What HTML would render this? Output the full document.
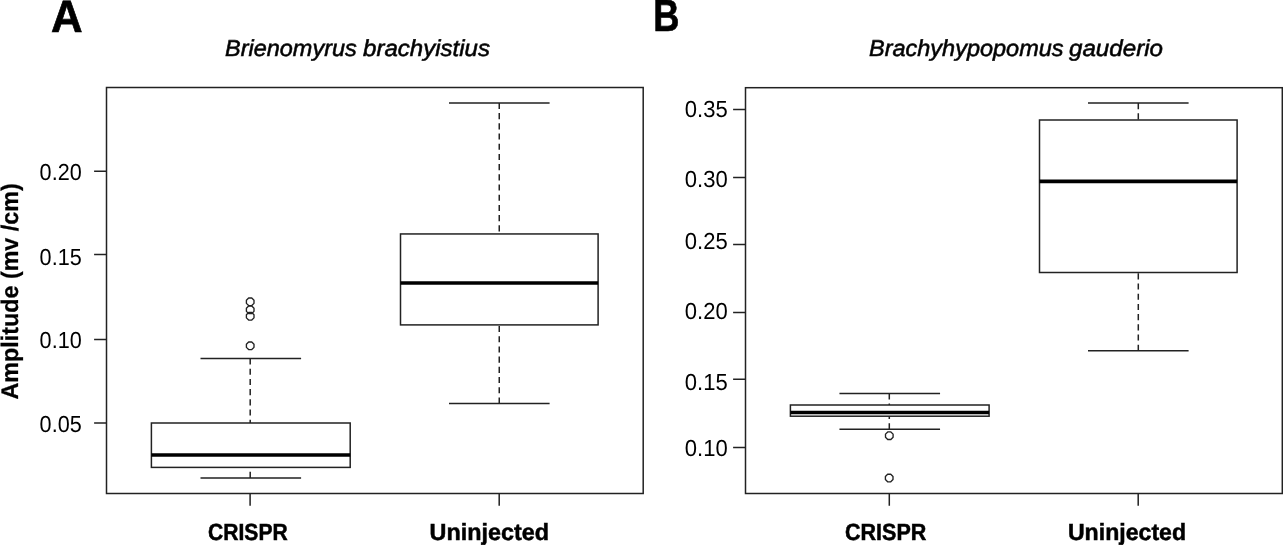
<!DOCTYPE html>
<html><head><meta charset="utf-8">
<style>
html,body{margin:0;padding:0;background:#fff;width:1283px;height:545px;overflow:hidden;}
svg{display:block;will-change:transform;}
text{font-family:"Liberation Sans", sans-serif;fill:#000;}
.b{font-weight:bold;}
.i{font-style:italic;}
</style></head><body>
<svg width="1283" height="545" viewBox="0 0 1283 545">
<rect x="0" y="0" width="1283" height="545" fill="#fff"/>
<text id="t0" transform="translate(51.00,32.00) skewX(0.05)" x="0" y="0" font-size="45.30" textLength="31.60" lengthAdjust="spacingAndGlyphs" class="b" stroke="#000" stroke-width="0.7">A</text>
<text id="t1" transform="translate(653.26,31.40) skewX(0.05)" x="0" y="0" font-size="45.00" textLength="26.17" lengthAdjust="spacingAndGlyphs" class="b" stroke="#000" stroke-width="0.7">B</text>
<text id="t2" transform="translate(225.00,55.80) skewX(0.05)" x="0" y="0" font-size="23.00" textLength="131.80" lengthAdjust="spacingAndGlyphs" class="i" fill="#111" stroke="#111" stroke-width="0.6">Brienomyrus</text>
<text id="t3" transform="translate(363.10,55.80) skewX(0.05)" x="0" y="0" font-size="23.00" textLength="126.90" lengthAdjust="spacingAndGlyphs" class="i" fill="#111" stroke="#111" stroke-width="0.6">brachyistius</text>
<text id="t4" transform="translate(869.00,55.80) skewX(0.05)" x="0" y="0" font-size="23.00" textLength="194.50" lengthAdjust="spacingAndGlyphs" class="i" fill="#111" stroke="#111" stroke-width="0.6">Brachyhypopomus</text>
<text id="t5" transform="translate(1069.00,55.80) skewX(0.05)" x="0" y="0" font-size="23.00" textLength="94.00" lengthAdjust="spacingAndGlyphs" class="i" fill="#111" stroke="#111" stroke-width="0.6">gauderio</text>
<text id="t6" transform="translate(18.40,399.50) rotate(-90) skewX(0.05)" x="0" y="0" font-size="24.00" textLength="216.20" lengthAdjust="spacingAndGlyphs" class="b" stroke="#000" stroke-width="0.25">Amplitude (mv /cm)</text>
<text id="t7" transform="translate(39.60,179.90) skewX(0.05)" x="0" y="0" font-size="23.30" textLength="42.11" lengthAdjust="spacingAndGlyphs">0.20</text>
<text id="t8" transform="translate(39.60,264.90) skewX(0.05)" x="0" y="0" font-size="23.30" textLength="42.11" lengthAdjust="spacingAndGlyphs">0.15</text>
<text id="t9" transform="translate(39.60,348.10) skewX(0.05)" x="0" y="0" font-size="23.30" textLength="42.11" lengthAdjust="spacingAndGlyphs">0.10</text>
<text id="t10" transform="translate(39.60,431.90) skewX(0.05)" x="0" y="0" font-size="23.30" textLength="42.11" lengthAdjust="spacingAndGlyphs">0.05</text>
<text id="t11" transform="translate(684.79,117.00) skewX(0.05)" x="0" y="0" font-size="23.30" textLength="42.92" lengthAdjust="spacingAndGlyphs">0.35</text>
<text id="t12" transform="translate(684.79,186.80) skewX(0.05)" x="0" y="0" font-size="23.30" textLength="42.92" lengthAdjust="spacingAndGlyphs">0.30</text>
<text id="t13" transform="translate(684.79,249.10) skewX(0.05)" x="0" y="0" font-size="23.30" textLength="42.92" lengthAdjust="spacingAndGlyphs">0.25</text>
<text id="t14" transform="translate(684.79,318.90) skewX(0.05)" x="0" y="0" font-size="23.30" textLength="42.92" lengthAdjust="spacingAndGlyphs">0.20</text>
<text id="t15" transform="translate(684.79,389.70) skewX(0.05)" x="0" y="0" font-size="23.30" textLength="42.92" lengthAdjust="spacingAndGlyphs">0.15</text>
<text id="t16" transform="translate(684.79,456.00) skewX(0.05)" x="0" y="0" font-size="23.30" textLength="42.92" lengthAdjust="spacingAndGlyphs">0.10</text>
<text id="t17" transform="translate(208.00,540.10) skewX(0.05)" x="0" y="0" font-size="23.40" textLength="79.70" lengthAdjust="spacingAndGlyphs" class="b" stroke="#000" stroke-width="0.5">CRISPR</text>
<text id="t18" transform="translate(429.50,540.10) skewX(0.05)" x="0" y="0" font-size="23.40" textLength="119.49" lengthAdjust="spacingAndGlyphs" class="b" stroke="#000" stroke-width="0.5">Uninjected</text>
<text id="t19" transform="translate(845.00,540.20) skewX(0.05)" x="0" y="0" font-size="23.40" textLength="81.41" lengthAdjust="spacingAndGlyphs" class="b" stroke="#000" stroke-width="0.5">CRISPR</text>
<text id="t20" transform="translate(1067.90,540.10) skewX(0.05)" x="0" y="0" font-size="23.40" textLength="118.19" lengthAdjust="spacingAndGlyphs" class="b" stroke="#000" stroke-width="0.5">Uninjected</text>
<g fill="none" stroke="#222" stroke-width="1.5">
<rect x="106.5" y="87.5" width="536.7" height="406"/>
<rect x="745.5" y="87.7" width="536.8" height="405.8"/>
<path d="M94.1 171.3H106.5M94.1 254.4H106.5M94.1 339.4H106.5M94.1 422.9H106.5M733.1 109.4H745.5M733.1 177.4H745.5M733.1 244.4H745.5M733.1 312.4H745.5M733.1 379.3H745.5M733.1 447.4H745.5M250.1 493.5V505.8M499.2 493.5V505.8M889.3 493.5V505.8M1138.2 493.5V505.8"/>
<rect x="151.4" y="423" width="198.8" height="44.4"/>
<path d="M200.5 358.5H301.1M200.5 477.9H301.1"/>
<rect x="400.5" y="233.95" width="197.6" height="90.95"/>
<path d="M449 102.9H549.6M449 403.5H549.6"/>
<rect x="790.4" y="405" width="198.7" height="11.2"/>
<path d="M839.45 393.4H940.05M839.45 429.3H940.05"/>
<rect x="1039.5" y="120" width="197.6" height="152.5"/>
<path d="M1088 103.1H1188.6M1088 350.8H1188.6"/>
</g>
<g fill="none" stroke="#222" stroke-width="1.5" stroke-dasharray="6.1 4.1">
<path d="M250.2 358.5V423"/>
<path d="M250.2 477.9V467.4"/>
<path d="M499.25 102.9V233.95"/>
<path d="M499.25 403.5V324.9"/>
<path d="M889.3 393.4V405"/>
<path d="M889.3 429.3V416.2"/>
<path d="M1138.3 103.1V120"/>
<path d="M1138.3 350.8V272.5"/>
</g>
<g stroke="#000" stroke-width="3.7">
<path d="M151.4 455H350.2"/>
<path d="M400.5 283H598.1"/>
<path d="M790.4 412.5H989.1"/>
<path d="M1039.5 181.4H1237.1"/>
</g>
<g fill="none" stroke="#222" stroke-width="1.35">
<path d="M254 303.37L251.77 305.6L248.63 305.6L246.4 303.37L246.4 300.23L248.63 298L251.77 298L254 300.23Z" stroke-linejoin="round"/>
<path d="M254 311.37L251.77 313.6L248.63 313.6L246.4 311.37L246.4 308.23L248.63 306L251.77 306L254 308.23Z" stroke-linejoin="round"/>
<path d="M254 317.87L251.77 320.1L248.63 320.1L246.4 317.87L246.4 314.73L248.63 312.5L251.77 312.5L254 314.73Z" stroke-linejoin="round"/>
<path d="M254 347.37L251.77 349.6L248.63 349.6L246.4 347.37L246.4 344.23L248.63 342L251.77 342L254 344.23Z" stroke-linejoin="round"/>
<path d="M893.1 437.27L890.87 439.5L887.73 439.5L885.5 437.27L885.5 434.13L887.73 431.9L890.87 431.9L893.1 434.13Z" stroke-linejoin="round"/>
<path d="M893 479.57L890.77 481.8L887.63 481.8L885.4 479.57L885.4 476.43L887.63 474.2L890.77 474.2L893 476.43Z" stroke-linejoin="round"/>
</g>
</svg>
</body></html>
